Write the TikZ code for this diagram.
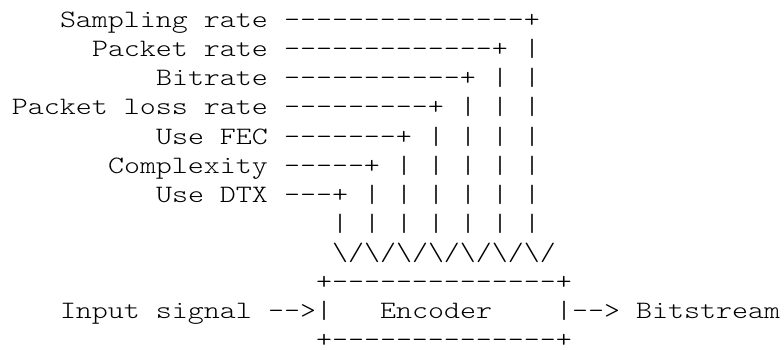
\documentclass[tikz,border=0pt]{standalone}
\usepackage{fontspec}
% thin typewriter face, widened so one character cell is 16pt wide
\newfontfamily\asciifont{lmmonolt10-regular.otf}[FakeStretch=1.219]
\tikzset{
  tt/.style={anchor=base west, inner sep=0pt, outer sep=0pt,
    font=\fontsize{25pt}{29.1pt}\selectfont\asciifont, text=black},
}
\begin{document}
\begin{tikzpicture}[x=16pt,y=29.1pt]
% one x unit = one character cell, one y unit = one text line
\useasboundingbox (-0.75,0.9485) rectangle (48.25,-11.0447);

% encoder parameters, right-aligned on column 15
\node[tt] (srate) at (3,0)  {Sampling rate};
\node[tt] (prate) at (5,-1) {Packet rate};
\node[tt] (brate) at (9,-2) {Bitrate};
\node[tt] (plr)   at (0,-3) {Packet loss rate};
\node[tt] (fec)   at (9,-4) {Use FEC};
\node[tt] (cplx)  at (6,-5) {Complexity};
\node[tt] (dtx)   at (9,-6) {Use DTX};

% leader lines ending in a corner
\node[tt] (srate-l) at (17,0)  {---------------+};
\node[tt] (prate-l) at (17,-1) {-------------+};
\node[tt] (brate-l) at (17,-2) {-----------+};
\node[tt] (plr-l)   at (17,-3) {---------+};
\node[tt] (fec-l)   at (17,-4) {-------+};
\node[tt] (cplx-l)  at (17,-5) {-----+};
\node[tt] (dtx-l)   at (17,-6) {---+};

% vertical drops from each corner down to the arrow heads
\foreach \k in {0,...,6}{
  \pgfmathtruncatemacro\c{32-2*\k}
  \pgfmathtruncatemacro\s{\k+1}
  \foreach \r in {\s,...,7}{
    \node[tt] (bar-\c-\r) at (\c,-\r) {|};
  }
}
\node[tt] (heads) at (20,-8)
  {\textbackslash/\textbackslash/\textbackslash/\textbackslash/\textbackslash/\textbackslash/\textbackslash/};

% encoder box with input and output
\node[tt] (enc-top)   at (19,-9)  {+--------------+};
\node[tt] (input)     at (3,-10)  {Input signal};
\node[tt] (in-arrow)  at (16,-10) {-->|};
\node[tt] (enc)       at (23,-10) {Encoder};
\node[tt] (out-arrow) at (34,-10) {|-->};
\node[tt] (out)       at (39,-10) {Bitstream};
\node[tt] (enc-bot)   at (19,-11) {+--------------+};
\end{tikzpicture}
\end{document}
